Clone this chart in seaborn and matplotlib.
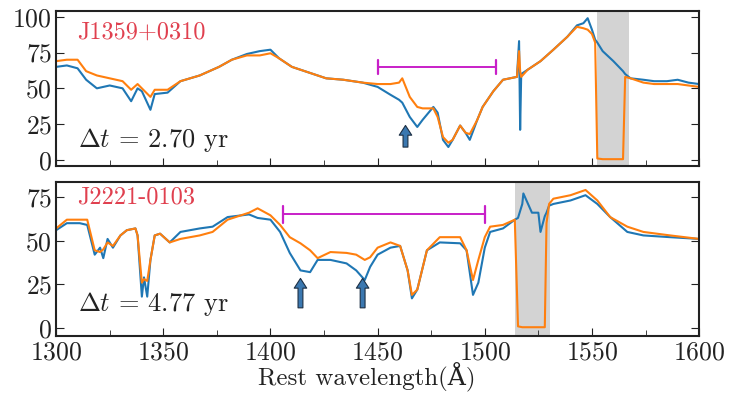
import numpy as np
import pandas as pd
import seaborn as sns
import matplotlib.pyplot as plt
from matplotlib.ticker import MultipleLocator

# top panel: J1359+0310
wave_top = [1300, 1305, 1310, 1314, 1319, 1325, 1331, 1335, 1338, 1340, 1344, 1346, 1352, 1358,
            1367, 1376, 1382, 1389, 1395, 1400, 1404, 1410, 1418, 1426, 1434, 1443, 1450, 1456,
            1460, 1461.5, 1465, 1468.5, 1471, 1476, 1478, 1480.5, 1483, 1485, 1488.5, 1491, 1493,
            1496.5, 1499, 1504, 1508.5, 1515, 1516, 1516.5, 1517, 1520, 1526, 1532, 1538.5, 1543,
            1546, 1548, 1550, 1551.5, 1552.5, 1555, 1560, 1564.5, 1565.5, 1568, 1574, 1579, 1585,
            1590, 1595, 1600]
flux_top_old = [65, 66, 64, 56, 50, 52, 50, 41, 50, 48, 35, 46, 47, 55,
                59, 65, 70, 74, 76, 77, 71, 65, 61, 57, 56, 54, 51, 45.5,
                42, 40, 30, 23, 28, 37, 33, 14, 9, 14, 24, 19, 14,
                28, 37, 48, 56, 58, 83, 21, 60, 63, 69, 77, 86, 94,
                95.5, 99, 91, 84, 82, 76, 69, 62, 60, 57, 56, 55, 55,
                56, 54, 53]
flux_top_new = [69, 70, 70, 62, 59, 57, 55, 49, 53, 50, 44, 49, 49, 55,
                59, 65, 70, 73, 73, 74.5, 71, 65, 61, 57, 56, 54, 53, 53,
                54, 57, 44, 37, 36, 36, 30, 16, 12, 14, 24, 19, 18,
                28, 37, 48, 56, 58, 76, 62, 58, 63, 69, 77, 86, 93,
                92, 91, 88, 82, 1, 0.5, 0.5, 0.5, 58, 57, 54, 53, 53,
                53, 52, 51]

# bottom panel: J2221-0103
wave_bot = [1300, 1305, 1311, 1314.5, 1318, 1320.5, 1322, 1324, 1326.5, 1330, 1333, 1337, 1338,
            1340, 1341, 1342.5, 1344, 1346, 1348.5, 1353, 1358, 1367, 1373, 1380, 1390, 1394,
            1400, 1404.5, 1409, 1414, 1418.5, 1422, 1428, 1435.5, 1440, 1444, 1446.5, 1450, 1456,
            1460.5, 1464, 1466, 1468.5, 1473, 1479, 1488.5, 1491.5, 1494.5, 1497, 1500, 1502.5,
            1508.5, 1514, 1515.5, 1517.5, 1518, 1522, 1525, 1526, 1528, 1528.8, 1530, 1532, 1540,
            1547, 1552.5, 1558.5, 1566.5, 1574, 1586.5, 1600]
flux_bot_old = [56, 60, 60, 59, 42, 46, 40, 51, 46, 53, 56, 57, 53,
                18, 29, 18, 39, 53, 54, 49, 55, 57, 58, 63.5, 65, 63,
                62, 55, 43, 33, 32, 39, 39, 37, 33, 27.5, 35, 42, 46,
                47, 33, 17, 22, 44.5, 49, 48.5, 44.5, 19, 26, 46, 55,
                57, 62, 63, 71, 77, 66, 66, 55, 64, 66, 70, 71, 73,
                76, 71, 63.5, 55, 53, 52, 51]
flux_bot_new = [57, 62, 62, 62, 44.5, 43.5, 45, 49, 47, 53, 56, 57, 53,
                26, 28, 27, 39, 53, 54, 49, 51, 53, 55, 62, 66, 68.5,
                64.5, 59, 52, 48.5, 44.5, 40, 43.5, 43, 42, 39, 40.5, 46, 49,
                47, 33, 19, 22, 44.5, 52, 52, 44.5, 27.5, 39, 52, 58,
                59, 62, 1, 0.5, 0.5, 0.5, 0.5, 0.5, 0.5, 60, 71, 74, 76,
                79, 73, 63.5, 58, 55, 53, 51]

names = ['J1359+0310', 'J2221-0103']
name_y = [89, 75]
delta_t = ['2.70', '4.77']
masked = [(1552.3, 1567.5), (1514.3, 1530.5)]
brackets = [(1450, 1505, 65), (1406, 1500, 65)]
arrows = [[1463], [1414, 1443]]

sns.set_style('ticks')
plt.rcParams['font.family'] = ['cmr10', 'DejaVu Serif']
plt.rcParams['mathtext.fontset'] = 'cm'
plt.rcParams['axes.formatter.use_mathtext'] = True

fig = plt.figure(figsize=(7.29, 3.95), dpi=100)
ax1 = fig.add_axes([0.077, 0.580, 0.882, 0.392])
ax2 = fig.add_axes([0.077, 0.149, 0.882, 0.390])

panels = [
    (ax1, wave_top, flux_top_old, flux_top_new, (-4.2, 104), [0, 25, 50, 75, 100], (26, 7)),
    (ax2, wave_bot, flux_bot_old, flux_bot_new, (-4.6, 83.5), [0, 25, 50, 75], (30, 10)),
]

for i, (ax, w, f_old, f_new, ylim, yt, arr) in enumerate(panels):
    df = pd.DataFrame({'wave': w, 'old': f_old, 'new': f_new})
    ax.axvspan(*masked[i], color='#d3d3d3', lw=0, zorder=0)
    sns.lineplot(data=df, x='wave', y='old', color='#1f77b4', lw=1.5, ax=ax, estimator=None)
    sns.lineplot(data=df, x='wave', y='new', color='#ff7f0e', lw=1.5, ax=ax, estimator=None)

    x0, x1, yb = brackets[i]
    ax.plot([x0, x1], [yb, yb], color='#c81fc8', lw=1.4)
    ax.plot([x0, x0], [yb - 5, yb + 5], color='#c81fc8', lw=1.6)
    ax.plot([x1, x1], [yb - 5, yb + 5], color='#c81fc8', lw=1.6)

    for xa in arrows[i]:
        ax.annotate('', xy=(xa, arr[0]), xytext=(xa, arr[1]),
                    arrowprops=dict(arrowstyle='simple,head_width=0.9,head_length=0.7,tail_width=0.35',
                                    fc='#3b78b0', ec='#1c2f44', lw=0.8))

    ax.text(1310, name_y[i], names[i], color='#e0404f', fontsize=17.5, va='center')
    ax.text(1310, 14, r'$\Delta t$ = ' + delta_t[i] + ' yr', color='#222222', fontsize=19, va='center')

    ax.set_xlim(1300, 1600)
    ax.set_ylim(*ylim)
    ax.set_yticks(yt)
    ax.xaxis.set_major_locator(MultipleLocator(50))
    ax.xaxis.set_minor_locator(MultipleLocator(25))
    ax.tick_params(direction='in', which='both', right=True, labelsize=18.5, colors='#222222', pad=3)
    ax.tick_params(axis='x', pad=3)
    ax.tick_params(which='major', length=6)
    ax.tick_params(which='minor', length=4)
    for s in ax.spines.values():
        s.set_linewidth(1.5)
        s.set_color('#222222')
    ax.set_ylabel('')
    ax.set_xlabel('')

ax1.tick_params(labelbottom=False)
fig.text(0.503, 0.024, 'Rest wavelength(Å)', fontsize=18, color='#222222',
         ha='center', va='baseline')

fig.savefig('out.png', dpi=100)
